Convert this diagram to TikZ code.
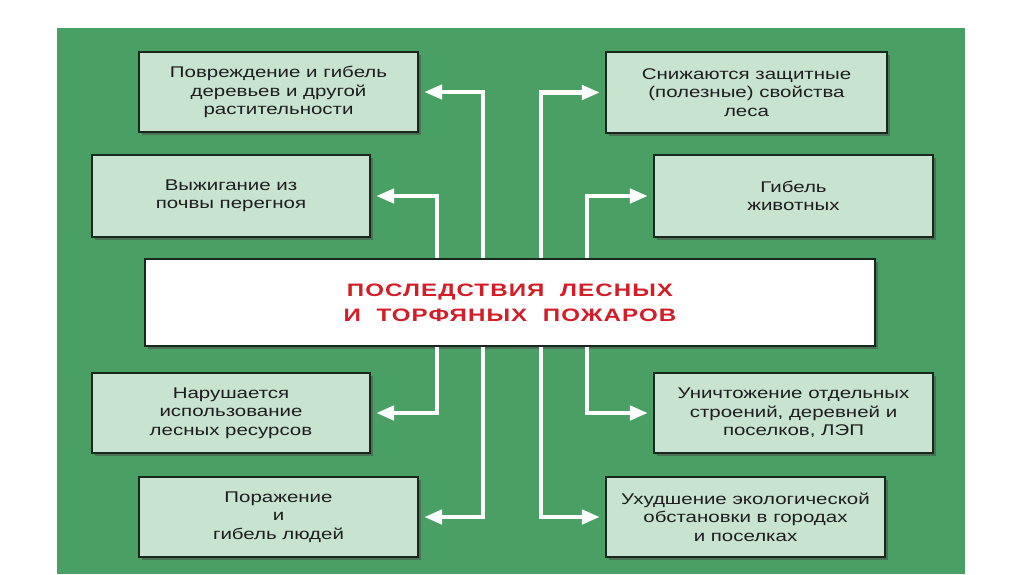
\documentclass[tikz,border=0pt]{standalone}
\usepackage{fontspec}
\setmainfont{Liberation Sans}
\newfontfamily\boxfont[FakeStretch=1.32]{Liberation Sans}
\newfontfamily\titlefont[FakeStretch=1.34,LetterSpace=6]{Liberation Sans}
\usetikzlibrary{arrows.meta,shadows}
\definecolor{bggreen}{RGB}{74,160,100}
\definecolor{boxfill}{RGB}{200,227,207}
\definecolor{boxline}{RGB}{25,40,28}
\definecolor{titlered}{RGB}{210,30,40}
\definecolor{txt}{RGB}{30,30,30}
\tikzset{
  infobox/.style={draw=boxline, line width=2.2pt, fill=boxfill, align=center,
    inner sep=2pt, text=txt, font=\boxfont\fontsize{15.5}{18.5}\selectfont,
    drop shadow={shadow xshift=2.5pt, shadow yshift=-2.5pt, opacity=0.55, fill=black!70}},
  mainbox/.style={draw=boxline, line width=2.2pt, fill=white, align=center,
    text=titlered, font=\titlefont\bfseries\fontsize{18}{25}\selectfont,
    drop shadow={shadow xshift=2.5pt, shadow yshift=-2.5pt, opacity=0.55, fill=black!70}},
  conn/.style={draw=white, line width=4.8pt, -{Triangle[length=18pt,width=14pt]}, shorten >=5pt}
}
\begin{document}
\begin{tikzpicture}[x=1pt, y=-1pt]
\useasboundingbox (0,0) rectangle (1024,574);
\fill[white] (0,0) rectangle (1024,574);
\fill[bggreen] (57,28) rectangle (965,574);

\node[mainbox, minimum width=730pt, minimum height=87pt] (c) at (510,302.5)
  {ПОСЛЕДСТВИЯ\ \ ЛЕСНЫХ\\И\ \ ТОРФЯНЫХ\ \ ПОЖАРОВ};

\node[infobox, minimum width=279pt, minimum height=80pt] (b1) at (278.5,92)
  {Повреждение и гибель\\деревьев и другой\\растительности};
\node[infobox, minimum width=278pt, minimum height=82pt] (b2) at (231,196)
  {Выжигание из\\почвы перегноя};
\node[infobox, minimum width=281pt, minimum height=81pt] (b3) at (746.5,92.5)
  {Снижаются защитные\\(полезные) свойства\\леса};
\node[infobox, minimum width=279pt, minimum height=82pt] (b4) at (793.5,196)
  {Гибель\\животных};
\node[infobox, minimum width=278pt, minimum height=80pt] (b5) at (231,413)
  {Нарушается\\использование\\лесных ресурсов};
\node[infobox, minimum width=279pt, minimum height=80pt] (b6) at (278.5,517)
  {Поражение\\и\\гибель людей};
\node[infobox, minimum width=279pt, minimum height=80pt] (b7) at (793.5,413)
  {Уничтожение отдельных\\строений, деревней и\\поселков, ЛЭП};
\node[infobox, minimum width=279pt, minimum height=80pt] (b8) at (745.5,517)
  {Ухудшение экологической\\обстановки в городах\\и поселках};

\coordinate (xlo) at (483,0);
\coordinate (xli) at (437,0);
\coordinate (xro) at (541,0);
\coordinate (xri) at (587,0);

\draw[conn] (c.north -| xlo) |- (b1.east);
\draw[conn] (c.north -| xli) |- (b2.east);
\draw[conn] (c.south -| xli) |- (b5.east);
\draw[conn] (c.south -| xlo) |- (b6.east);
\draw[conn] (c.north -| xro) |- (b3.west);
\draw[conn] (c.north -| xri) |- (b4.west);
\draw[conn] (c.south -| xri) |- (b7.west);
\draw[conn] (c.south -| xro) |- (b8.west);
\end{tikzpicture}
\end{document}
